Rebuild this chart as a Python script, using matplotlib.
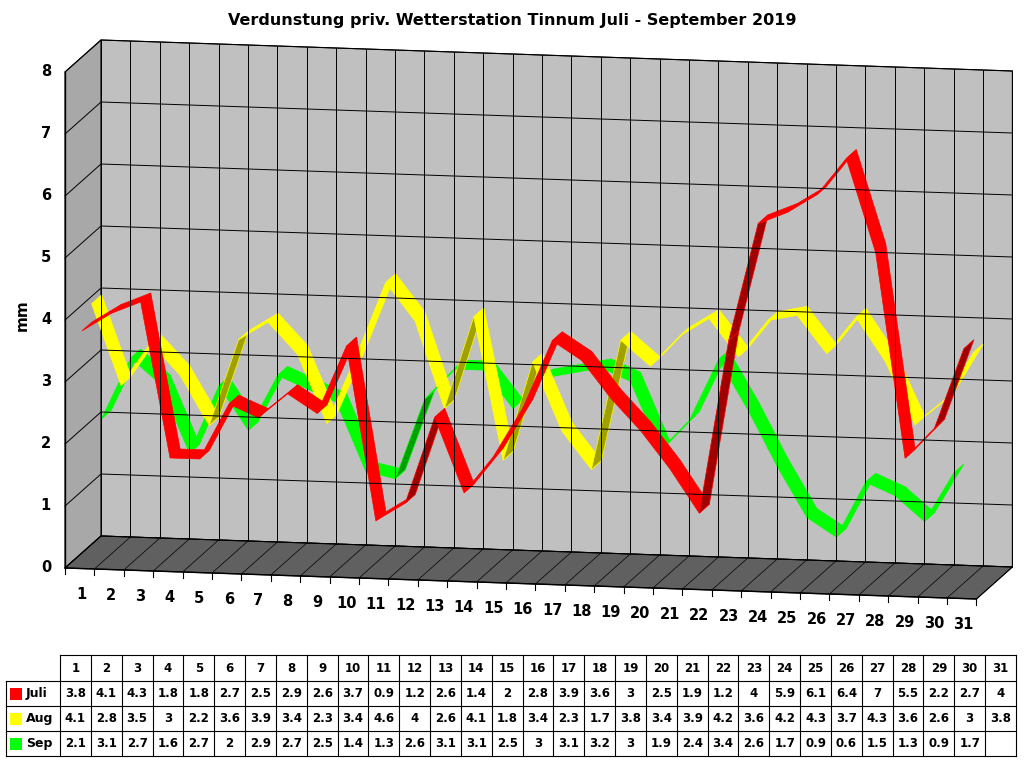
import matplotlib.pyplot as plt
from matplotlib.patches import Polygon

days = list(range(1, 32))
juli = [3.8, 4.1, 4.3, 1.8, 1.8, 2.7, 2.5, 2.9, 2.6, 3.7, 0.9, 1.2, 2.6, 1.4, 2, 2.8,
        3.9, 3.6, 3, 2.5, 1.9, 1.2, 4, 5.9, 6.1, 6.4, 7, 5.5, 2.2, 2.7, 4]
aug = [4.1, 2.8, 3.5, 3, 2.2, 3.6, 3.9, 3.4, 2.3, 3.4, 4.6, 4, 2.6, 4.1, 1.8, 3.4,
       2.3, 1.7, 3.8, 3.4, 3.9, 4.2, 3.6, 4.2, 4.3, 3.7, 4.3, 3.6, 2.6, 3, 3.8]
sep = [2.1, 3.1, 2.7, 1.6, 2.7, 2, 2.9, 2.7, 2.5, 1.4, 1.3, 2.6, 3.1, 3.1, 2.5, 3,
       3.1, 3.2, 3, 1.9, 2.4, 3.4, 2.6, 1.7, 0.9, 0.6, 1.5, 1.3, 0.9, 1.7]

# pseudo-3D projection in pixel coordinates
X0, Y0, DX, DY, VS = 65, 568, 29.4, 1.0, 62.0
ZX, ZY = 36, -32


def P(i, z, v):
    return (X0 + i * DX + z * ZX, Y0 + i * DY - v * VS + z * ZY)


fig = plt.figure(figsize=(10.24, 7.68), dpi=100)
ax = fig.add_axes([0, 0, 1, 1])
ax.set_xlim(0, 1024)
ax.set_ylim(768, 0)
ax.axis('off')

n = 31
# back wall
ax.add_patch(Polygon([P(0, 1, 0), P(n, 1, 0), P(n, 1, 8), P(0, 1, 8)],
                     fc='#c0c0c0', ec='black', lw=0.8))
# side wall
ax.add_patch(Polygon([P(0, 0, 0), P(0, 1, 0), P(0, 1, 8), P(0, 0, 8)],
                     fc='#a8a8a8', ec='black', lw=0.8))
# floor
ax.add_patch(Polygon([P(0, 0, 0), P(n, 0, 0), P(n, 1, 0), P(0, 1, 0)],
                     fc='#606060', ec='black', lw=0.8))
for v in range(9):
    ax.plot(*zip(P(0, 0, v), P(0, 1, v), P(n, 1, v)), color='black', lw=0.7)
for i in range(n + 1):
    ax.plot(*zip(P(i, 1, 0), P(i, 1, 8)), color='black', lw=0.7)
    ax.plot(*zip(P(i, 0, 0), P(i, 1, 0)), color='black', lw=0.5)
    x, y = P(i, 0, 0)
    ax.plot([x, x], [y, y + 6], color='black', lw=0.8)
ax.plot(*zip(P(0, 0, 0), P(0, 0, 8)), color='black', lw=1)
ax.plot(*zip(P(0, 0, 0), P(n, 0, 0)), color='black', lw=1)

# ribbons, back to front
series = [(sep, '#00ff00', '#00a000', 0.60, 0.88),
          (aug, '#ffff00', '#a0a000', 0.33, 0.61),
          (juli, '#ff0000', '#a00000', 0.06, 0.34)]
for vals, fc, dc, z1, z2 in series:
    for k in range(len(vals) - 1):
        a, b = k + 0.5, k + 1.5
        poly = [P(a, z1, vals[k]), P(b, z1, vals[k + 1]),
                P(b, z2, vals[k + 1]), P(a, z2, vals[k])]
        steep = abs(vals[k + 1] - vals[k]) > 1.2 and vals[k + 1] > vals[k]
        ax.add_patch(Polygon(poly, fc=dc if steep else fc, ec=fc, lw=0.5))

# axis labels
for v in range(9):
    x, y = P(0, 0, v)
    ax.text(x - 14, y, str(v), ha='right', va='center', fontsize=10.5, fontweight='bold')
for d in days:
    x, y = P(d - 0.5, 0, 0)
    ax.text(x + 2, y + 26, str(d), ha='center', va='center', fontsize=10.5, fontweight='bold')
ax.text(22, 315, 'mm', rotation=90, ha='center', va='center', fontsize=11, fontweight='bold')
ax.text(512, 20, 'Verdunstung priv. Wetterstation Tinnum Juli - September 2019',
        ha='center', va='center', fontsize=11.5, fontweight='bold')

# data table
tx0, tx1, lab0 = 60, 1016, 6
cw = (tx1 - tx0) / 31
rows_y = [655, 681, 706, 731, 756]
ax.plot([tx0, tx1], [rows_y[0]] * 2, color='black', lw=0.8)
for y in rows_y[1:]:
    ax.plot([lab0, tx1], [y, y], color='black', lw=0.8)
ax.plot([lab0, lab0], [rows_y[1], rows_y[-1]], color='black', lw=0.8)
for c in range(32):
    x = tx0 + c * cw
    ax.plot([x, x], [rows_y[0], rows_y[-1]], color='black', lw=0.8)
for d in days:
    ax.text(tx0 + (d - 0.5) * cw, (rows_y[0] + rows_y[1]) / 2, str(d),
            ha='center', va='center', fontsize=8.5, fontweight='bold')
names = ['Juli', 'Aug', 'Sep']
colors = ['#ff0000', '#ffff00', '#00ff00']
for r, (name, col, vals) in enumerate(zip(names, colors, [juli, aug, sep])):
    yc = (rows_y[r + 1] + rows_y[r + 2]) / 2
    ax.add_patch(Polygon([(10, yc - 6), (22, yc - 6), (22, yc + 6), (10, yc + 6)],
                         fc=col, ec='none'))
    ax.text(26, yc, name, ha='left', va='center', fontsize=9, fontweight='bold')
    for k, v in enumerate(vals):
        ax.text(tx0 + (k + 0.5) * cw, yc, f'{v:g}', ha='center', va='center',
                fontsize=8.5, fontweight='bold')

fig.savefig('out.png', dpi=100, facecolor='white')
